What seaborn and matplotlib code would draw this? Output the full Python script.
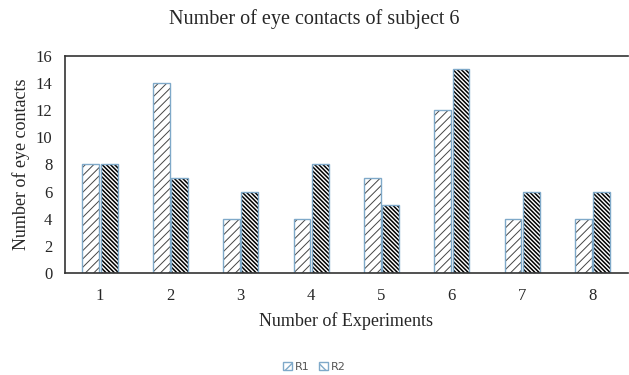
import matplotlib
matplotlib.use("Agg")
import matplotlib.pyplot as plt
import seaborn as sns
import pandas as pd
from matplotlib.patches import Patch

experiments = ["1", "2", "3", "4", "5", "6", "7", "8"]
r1 = [8, 14, 4, 4, 7, 12, 4, 4]
r2 = [8, 7, 6, 8, 5, 15, 6, 6]
series = ["R1", "R2"]

df = pd.DataFrame({
    "Experiment": experiments * 2,
    "Count": r1 + r2,
    "Series": ["R1"] * len(r1) + ["R2"] * len(r2),
})

sns.set_theme(style="white")
plt.rcParams["font.family"] = ["Liberation Serif", "DejaVu Serif"]
plt.rcParams["hatch.linewidth"] = 1.0

fig = plt.figure(figsize=(6.29, 3.75), dpi=100)
ax = fig.add_axes([0.103, 0.272, 0.895, 0.579])

sns.barplot(data=df, x="Experiment", y="Count", hue="Series",
            palette=["white", "white"], width=0.52, gap=0.08,
            ax=ax, legend=False, saturation=1)

edge = "#7fa9c9"
hatches = {"R1": "////", "R2": "\\" * 8}
hcolors = {"R1": "#444444", "R2": "black"}
hwidths = {"R1": 0.7, "R2": 1.1}
n = len(experiments)
for i, p in enumerate(ax.patches[:2 * n]):
    s = series[i // n]
    p.set_hatch(hatches[s])
    p.set_edgecolor(edge)
    p.set_linewidth(1.0)
    p._hatch_color = matplotlib.colors.to_rgba(hcolors[s])
    if hasattr(p, "set_hatch_linewidth"):
        p.set_hatch_linewidth(hwidths[s])

ax.set_xlim(-0.5, n - 0.5)
ax.set_ylim(0, 16)
ax.set_yticks(range(0, 17, 2))
ax.tick_params(axis="x", labelsize=12, length=0, pad=11)
ax.tick_params(axis="y", labelsize=12, length=0, pad=9)
ax.set_xlabel("Number of Experiments", fontsize=13, labelpad=6)
ax.set_ylabel("Number of eye contacts", fontsize=13, labelpad=4)
fig.suptitle("Number of eye contacts of subject 6", fontsize=14.5, y=0.975)

for side in ["top", "left", "bottom"]:
    ax.spines[side].set_visible(True)
    ax.spines[side].set_color("#333333")
    ax.spines[side].set_linewidth(1.2)
ax.spines["right"].set_visible(False)

handles = []
for s in series:
    h = Patch(facecolor="white", edgecolor=edge, hatch=hatches[s][:3], label=s)
    handles.append(h)
leg = fig.legend(handles=handles, loc="lower center", bbox_to_anchor=(0.5, -0.018),
                 ncol=2, frameon=False, handlelength=0.8,
                 handleheight=0.8, columnspacing=0.8, handletextpad=0.3,
                 prop={"family": "DejaVu Sans", "size": 8})
for t in leg.get_texts():
    t.set_color("#555555")

fig.savefig("out.png", dpi=100)
